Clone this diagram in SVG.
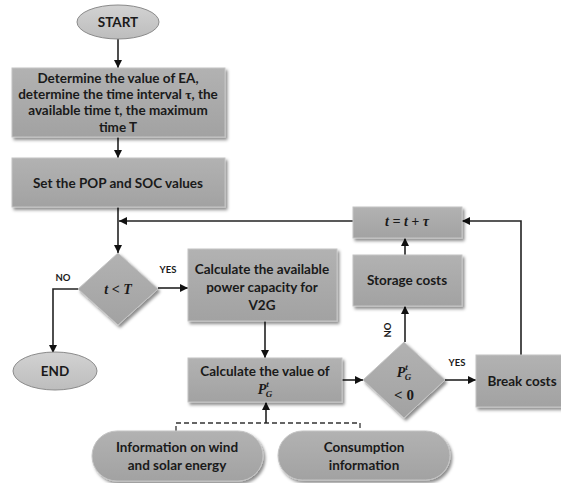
<svg xmlns="http://www.w3.org/2000/svg" width="561" height="483" viewBox="0 0 561 483">
<defs>
<filter id="sh" x="-10%" y="-10%" width="130%" height="140%">
<feDropShadow dx="2" dy="2.5" stdDeviation="1.5" flood-color="#000" flood-opacity="0.45"/>
</filter>
<linearGradient id="g" x1="0" y1="0" x2="0" y2="1">
<stop offset="0" stop-color="#b2b2b2"/>
<stop offset="1" stop-color="#a2a2a2"/>
</linearGradient>
<linearGradient id="ge" x1="0" y1="0" x2="0" y2="1">
<stop offset="0" stop-color="#d2d2d2"/>
<stop offset="1" stop-color="#bdbdbd"/>
</linearGradient>
<marker id="ar" viewBox="0 0 10 10" refX="10" refY="5" markerWidth="8" markerHeight="8" markerUnits="userSpaceOnUse" orient="auto">
<path d="M0,0 L10,5 L0,10 z" fill="#111"/>
</marker>
</defs>
<style>
.box{fill:url(#g);stroke:#c4c4c4;stroke-width:1;filter:url(#sh)}
.ell{fill:url(#ge);stroke:#8a8a8a;stroke-width:1}
.pill{fill:url(#g);stroke:#c4c4c4;stroke-width:1;filter:url(#sh)}
.t{font-family:Lato,"Liberation Sans",sans-serif;font-weight:bold;font-size:13.5px;fill:#1a1a1a;text-anchor:middle}
.m{font-family:"Liberation Serif",serif;font-weight:bold;font-style:italic;font-size:14px;fill:#1a1a1a;text-anchor:middle}
.mu{font-family:"Liberation Serif",serif;font-weight:bold;font-style:normal;font-size:15px;fill:#1a1a1a;text-anchor:middle}
.lb{font-family:Lato,"Liberation Sans",sans-serif;font-weight:bold;font-size:9.5px;fill:#1a1a1a;text-anchor:middle}
.c{fill:none;stroke:#222;stroke-width:1.6}
.d{fill:none;stroke:#333;stroke-width:1.3;stroke-dasharray:5,3}
</style>
<g id="connectors">
<line class="c" x1="118" y1="39" x2="118" y2="68" marker-end="url(#ar)"/>
<line class="c" x1="118" y1="137" x2="118" y2="158" marker-end="url(#ar)"/>
<line class="c" x1="118" y1="207" x2="118" y2="253" marker-end="url(#ar)"/>
<line class="c" x1="353" y1="221" x2="119" y2="221" marker-end="url(#ar)"/>
<line class="c" x1="158" y1="288" x2="188" y2="288" marker-end="url(#ar)"/>
<polyline class="c" points="79,289 53,289 53,353" marker-end="url(#ar)"/>
<line class="c" x1="265" y1="321" x2="265" y2="358" marker-end="url(#ar)"/>
<line class="c" x1="342" y1="380" x2="363" y2="380" marker-end="url(#ar)"/>
<line class="c" x1="405" y1="342" x2="405" y2="306" marker-end="url(#ar)"/>
<line class="c" x1="405" y1="255" x2="405" y2="238" marker-end="url(#ar)"/>
<line class="c" x1="445" y1="380" x2="476" y2="380" marker-end="url(#ar)"/>
<polyline class="c" points="521,355 521,221 462,221" marker-end="url(#ar)"/>
<polyline class="d" points="176,431 176,423 360,423 360,431"/>
<line class="c" x1="266" y1="423" x2="266" y2="402" marker-end="url(#ar)"/>
<text class="lb" x="168" y="273">YES</text>
<text class="lb" x="63" y="281">NO</text>
<text class="lb" x="457" y="366">YES</text>
<text class="lb" transform="translate(391,330) rotate(-90)">NO</text>
</g>
<g id="start">
<ellipse class="ell" cx="118" cy="22" rx="41" ry="17"/>
<text class="t" x="118" y="27">START</text>
</g>
<g id="determine">
<rect class="box" x="12" y="68" width="213" height="69"/>
<text class="t" x="118" y="83">Determine the value of EA,</text>
<text class="t" x="118" y="99">determine the time interval <tspan font-family="'Liberation Serif',serif">τ</tspan>, the</text>
<text class="t" x="118" y="115">available time t, the maximum</text>
<text class="t" x="118" y="132">time T</text>
</g>
<g id="set">
<rect class="box" x="12" y="158" width="213" height="49"/>
<text class="t" x="118" y="188">Set the POP and SOC values</text>
</g>
<g id="cond1">
<polygon class="box" points="118,253 158,289 118,325 78,289"/>
<text class="m" x="118" y="294" font-size="13">t <tspan font-style="normal">&lt;</tspan> T</text>
</g>
<g id="end">
<ellipse class="ell" cx="55" cy="371" rx="42" ry="19"/>
<text class="t" x="55" y="376">END</text>
</g>
<g id="calcpower">
<rect class="box" x="188" y="249" width="149" height="72"/>
<text class="t" x="262" y="274">Calculate the available</text>
<text class="t" x="262" y="292">power capacity for</text>
<text class="t" x="262" y="310">V2G</text>
</g>
<g id="calcvalue">
<rect class="box" x="188" y="358" width="154" height="44"/>
<text class="t" x="265" y="376">Calculate the value of</text>
<text class="m" x="265" y="394" font-size="15">P<tspan font-size="9" dy="-7">t</tspan><tspan font-size="9" dx="-3" dy="10">G</tspan></text>
</g>
<g id="cond2">
<polygon class="box" points="404,342 445,380 404,418 363,380"/>
<text class="m" x="404" y="377" font-size="15">P<tspan font-size="9" dy="-7">t</tspan><tspan font-size="9" dx="-3" dy="10">G</tspan></text>
<text class="mu" x="404" y="400">&lt; 0</text>
</g>
<g id="storage">
<rect class="box" x="353" y="255" width="109" height="51"/>
<text class="t" x="407" y="285">Storage costs</text>
</g>
<g id="update">
<rect class="box" x="353" y="207" width="109" height="31"/>
<text class="m" x="407" y="226">t = t + τ</text>
</g>
<g id="break">
<rect class="box" x="476" y="355" width="92" height="52"/>
<text class="t" x="522" y="386">Break costs</text>
</g>
<g id="wind">
<rect class="pill" x="92" y="431" width="171" height="50" rx="25" ry="25"/>
<text class="t" x="177" y="452">Information on wind</text>
<text class="t" x="177" y="470">and solar energy</text>
</g>
<g id="consumption">
<rect class="pill" x="278" y="431" width="172" height="49" rx="24.5" ry="24.5"/>
<text class="t" x="364" y="452">Consumption</text>
<text class="t" x="364" y="470">information</text>
</g>
</svg>
